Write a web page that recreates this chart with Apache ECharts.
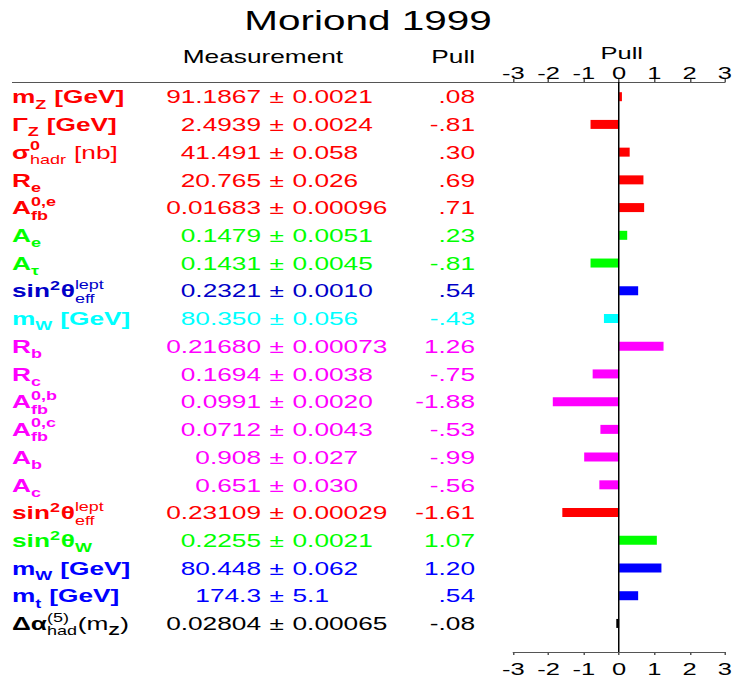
<!DOCTYPE html>
<html>
<head>
<meta charset="utf-8">
<title>Moriond 1999</title>
<script src="https://cdn.jsdelivr.net/npm/echarts@6/dist/echarts.min.js"></script>
<style>
  html, body { margin: 0; padding: 0; background: #fff; overflow: hidden; }
  #wrap { width: 736px; height: 683px; overflow: hidden; }
  /* the plot is laid out narrow and widened 1.5x, giving the broad lettering */
  #chart { width: 491px; height: 683px; transform: scaleX(1.5); transform-origin: 0 0; }
</style>
</head>
<body>
<div id="wrap"><div id="chart"></div></div>
<script>
// ---- data -----------------------------------------------------------
// observable names: _{..} subscript, ^{..} superscript
const names = [
  'm_{Z} [GeV]',
  'Γ_{Z} [GeV]',
  'σ^{0}_{hadr} [nb]',
  'R_{e}',
  'A^{0,e}_{fb}',
  'A_{e}',
  'A_{τ}',
  'sin^{2}θ^{lept}_{eff}',
  'm_{W} [GeV]',
  'R_{b}',
  'R_{c}',
  'A^{0,b}_{fb}',
  'A^{0,c}_{fb}',
  'A_{b}',
  'A_{c}',
  'sin^{2}θ^{lept}_{eff}',
  'sin^{2}θ_{W}',
  'm_{W} [GeV]',
  'm_{t} [GeV]',
  'Δα^{(5)}_{had}(m_{Z})'
];
const measured = ['91.1867', '2.4939', '41.491', '20.765', '0.01683', '0.1479', '0.1431', '0.2321',
  '80.350', '0.21680', '0.1694', '0.0991', '0.0712', '0.908', '0.651', '0.23109', '0.2255',
  '80.448', '174.3', '0.02804'];
const errors = ['0.0021', '0.0024', '0.058', '0.026', '0.00096', '0.0051', '0.0045', '0.0010',
  '0.056', '0.00073', '0.0038', '0.0020', '0.0043', '0.027', '0.030', '0.00029', '0.0021',
  '0.062', '5.1', '0.00065'];
const pulls = [0.08, -0.81, 0.30, 0.69, 0.71, 0.23, -0.81, 0.54, -0.43, 1.26, -0.75, -1.88,
  -0.53, -0.99, -0.56, -1.61, 1.07, 1.20, 0.54, -0.08];
const pullTicks = [-3, -2, -1, 0, 1, 2, 3];

// ---- styling --------------------------------------------------------
const RED = '#ff0000', GREEN = '#00ff00', BLUE = '#0000ff', CYAN = '#00ffff',
      MAGENTA = '#ff00ff', BLACK = '#000000';
const barColors = [RED, RED, RED, RED, RED, GREEN, GREEN, BLUE, CYAN, MAGENTA, MAGENTA,
  MAGENTA, MAGENTA, MAGENTA, MAGENTA, RED, GREEN, BLUE, BLUE, BLACK];
const textColors = barColors.map((c, i) => (i === 7 ? '#0000c8' : c));
const thinParts = [' [nb]', 'hadr', 'lept', 'eff', 'had', '(5)', '(m', ')'];

const FAMILY = '"Liberation Sans", Arial, Helvetica, sans-serif';
const MAIN_SIZE = 17.5, SCRIPT_SIZE = 12;
const SUP_DY = -7, SUP_ALONE_DY = -5.5, SUB_DY = 6.85;
const LABEL_X = 8, VALUE_RIGHT = 174, PM_X = 184.5, ERR_LEFT = 195, PULL_RIGHT = 316.7;
const TEXT_DY = 0.8;

const measureCtx = document.createElement('canvas').getContext('2d');
function fontOf(size, weight) { return weight + ' ' + size + 'px ' + FAMILY; }
function textWidth(str, size, weight) {
  measureCtx.font = fontOf(size, weight);
  return measureCtx.measureText(str).width;
}

// split a name into plain runs and (possibly stacked) script blocks
function parseName(s) {
  const out = [];
  let i = 0;
  while (i < s.length) {
    const ch = s[i];
    if ((ch === '^' || ch === '_') && s[i + 1] === '{') {
      const end = s.indexOf('}', i);
      const txt = s.slice(i + 2, end);
      const key = ch === '^' ? 'sup' : 'sub';
      const last = out[out.length - 1];
      if (last && last.script && !last[key]) last[key] = txt;
      else out.push({ script: true, [key]: txt });
      i = end + 1;
    } else {
      let j = i;
      while (j < s.length && !((s[j] === '^' || s[j] === '_') && s[j + 1] === '{')) j++;
      out.push({ t: s.slice(i, j) });
      i = j;
    }
  }
  return out;
}

function textEl(x, y, str, size, weight, color, align, lineHeight) {
  const style = {
    text: str, font: fontOf(size, weight), fill: color,
    align: align, textAlign: align, verticalAlign: 'middle', textVerticalAlign: 'middle'
  };
  if (lineHeight) style.lineHeight = lineHeight;
  return { type: 'text', x: x, y: y, silent: true, style: style };
}

function nameChildren(str, y, color) {
  const kids = [];
  let x = LABEL_X;
  parseName(str).forEach(part => {
    if (!part.script) {
      const w = thinParts.includes(part.t) ? 'normal' : 'bold';
      kids.push(textEl(x, y, part.t, MAIN_SIZE, w, color, 'left'));
      x += textWidth(part.t, MAIN_SIZE, w);
    } else {
      let adv = 0;
      const both = part.sup && part.sub;
      if (part.sup) {
        const w = thinParts.includes(part.sup) ? 'normal' : 'bold';
        kids.push(textEl(x, y + (both ? SUP_DY : SUP_ALONE_DY), part.sup, SCRIPT_SIZE, w, color, 'left', 13));
        adv = Math.max(adv, textWidth(part.sup, SCRIPT_SIZE, w));
      }
      if (part.sub) {
        const w = thinParts.includes(part.sub) ? 'normal' : 'bold';
        kids.push(textEl(x, y + SUB_DY, part.sub, SCRIPT_SIZE, w, color, 'left', 13));
        adv = Math.max(adv, textWidth(part.sub, SCRIPT_SIZE, w));
      }
      x += adv + 0.5;
    }
  });
  return kids;
}

function pullText(v) {
  return v.toFixed(2).replace(/^(-?)0\./, '$1.');
}

const rows = names.map((n, i) => [0, i]);
const bars = pulls.map((p, i) => [p, i]);

const axisCommon = {
  type: 'value', min: pullTicks[0], max: pullTicks[pullTicks.length - 1], interval: 1,
  axisLine: { show: true, onZero: false, lineStyle: { color: '#555', width: 1 } },
  axisTick: { show: true, length: 3, lineStyle: { color: '#555', width: 1 } },
  splitLine: { show: false },
  axisLabel: { fontSize: 17, fontFamily: FAMILY, color: '#000', showMinLabel: true, showMaxLabel: true }
};

const chart = echarts.init(document.getElementById('chart'), null, { renderer: 'svg' });
chart.setOption({
  animation: false,
  backgroundColor: '#fff',
  grid: { left: 342.2, right: 4.8, top: 82, bottom: 31, containLabel: false },
  xAxis: [
    Object.assign({}, axisCommon, { position: 'top',
      axisLabel: Object.assign({}, axisCommon.axisLabel, { margin: 0 }) }),
    Object.assign({}, axisCommon, { position: 'bottom',
      axisLabel: Object.assign({}, axisCommon.axisLabel, { margin: 9 }) })
  ],
  yAxis: { type: 'value', inverse: true, min: -0.53, max: 20.03, show: false },
  graphic: [
    { type: 'text', x: 245.3, y: 21, silent: true,
      style: { text: 'Moriond 1999', font: fontOf(27, 'normal'), fill: '#000',
        align: 'center', textAlign: 'center', verticalAlign: 'middle', textVerticalAlign: 'middle' } },
    { type: 'text', x: 175.3, y: 57, silent: true,
      style: { text: 'Measurement', font: fontOf(17.5, 'normal'), fill: '#000',
        align: 'center', textAlign: 'center', verticalAlign: 'middle', textVerticalAlign: 'middle' } },
    { type: 'text', x: PULL_RIGHT, y: 57, silent: true,
      style: { text: 'Pull', font: fontOf(17.5, 'normal'), fill: '#000',
        align: 'right', textAlign: 'right', verticalAlign: 'middle', textVerticalAlign: 'middle' } },
    { type: 'text', x: 414.5, y: 53.5, silent: true,
      style: { text: 'Pull', font: fontOf(17, 'normal'), fill: '#000',
        align: 'center', textAlign: 'center', verticalAlign: 'middle', textVerticalAlign: 'middle' } },
    { type: 'line', silent: true,
      shape: { x1: 8, y1: 82.5, x2: 343, y2: 82.5 },
      style: { stroke: '#555', lineWidth: 1 } }
  ],
  series: [
    {
      // pull bars
      type: 'custom',
      xAxisIndex: 0,
      data: bars,
      clip: false,
      renderItem: function (params, api) {
        const v = api.value(0), i = api.value(1);
        const a = api.coord([0, i]), b = api.coord([v, i]);
        return {
          type: 'rect',
          shape: { x: Math.min(a[0], b[0]), y: a[1] - 4.5, width: Math.abs(b[0] - a[0]), height: 9 },
          style: { fill: barColors[i] }
        };
      },
      markLine: {
        silent: true, symbol: 'none', animation: false,
        label: { show: false },
        lineStyle: { color: '#000', width: 1, type: 'solid' },
        data: [{ xAxis: 0 }]
      },
      z: 2
    },
    {
      // row names, measurements and pull values
      type: 'custom',
      xAxisIndex: 0,
      data: rows,
      clip: false,
      renderItem: function (params, api) {
        const i = api.value(1);
        const y = api.coord([0, i])[1] + TEXT_DY;
        const color = textColors[i];
        const kids = nameChildren(names[i], y, color);
        kids.push(textEl(VALUE_RIGHT, y, measured[i], MAIN_SIZE, 'normal', color, 'right'));
        kids.push(textEl(PM_X, y, '±', MAIN_SIZE, 'normal', color, 'center'));
        kids.push(textEl(ERR_LEFT, y, errors[i], MAIN_SIZE, 'normal', color, 'left'));
        kids.push(textEl(PULL_RIGHT, y, pullText(pulls[i]), MAIN_SIZE, 'normal', color, 'right'));
        return { type: 'group', children: kids };
      },
      z: 3
    }
  ]
});
</script>
</body>
</html>
